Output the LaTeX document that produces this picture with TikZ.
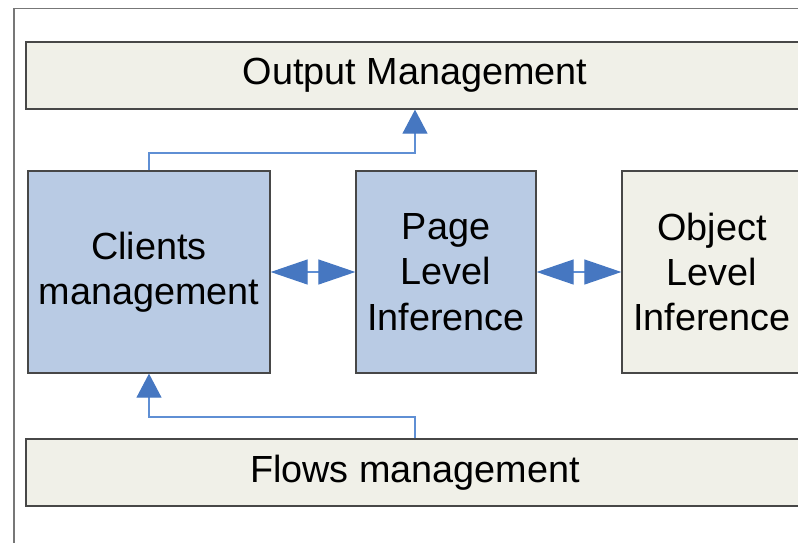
\documentclass[tikz,border=0pt]{standalone}
\usepackage{fontspec}
\setmainfont{Liberation Sans}
\usetikzlibrary{arrows.meta}
\definecolor{paleblue}{HTML}{B9CBE4}
\definecolor{paleash}{HTML}{F0F0E8}
\definecolor{tipblue}{HTML}{4677C1}
\definecolor{lineblue}{HTML}{5F8FD4}
\definecolor{framegray}{HTML}{777777}
\tikzset{
  box/.style={draw=black!72, line width=1.3pt, inner sep=0pt, align=center,
    font=\fontsize{37.8}{45.4}\selectfont},
  bluebox/.style={box, fill=paleblue},
  ashbox/.style={box, fill=paleash},
  conn/.style={draw=lineblue, line width=1.2pt},
  uptip/.style={-{Triangle[color=tipblue, length=24pt, width=25pt]}},
  bothtips/.style={{Triangle[color=tipblue, length=37pt, width=25pt]}-{Triangle[color=tipblue, length=37pt, width=25pt]}}
}
\begin{document}
\begin{tikzpicture}[x=1pt, y=-1pt]
\useasboundingbox (0,0) rectangle (798,542);
% outer frame (left and top edges)
\draw[framegray, line width=1.6pt] (14,560) -- (14,8.5) -- (820,8.5);
% wide bars
\node[ashbox, minimum width=778pt, minimum height=67pt] (output) at (415,75.5) {Output Management};
\node[ashbox, minimum width=778pt, minimum height=67pt] (flows) at (415,472.5) {Flows management};
% middle row
\node[bluebox, minimum width=242pt, minimum height=202pt] (clients) at (149,272) {Clients\\management};
\node[bluebox, minimum width=180pt, minimum height=202pt] (page) at (446,272) {Page\\Level\\Inference};
\node[ashbox, minimum width=180pt, minimum height=202pt] (object) at (712,272) {Object\\Level\\Inference};
% connectors
\coordinate (j1) at (149,153);
\coordinate (j2) at (415,417);
\draw[conn, uptip] (clients.north) -- (j1) -| (output.south);
\draw[conn, uptip] (flows.north) -- (j2) -| (clients.south);
\draw[conn, bothtips] (clients.east) -- (page.west);
\draw[conn, bothtips] (page.east) -- (object.west);
\end{tikzpicture}
\end{document}
